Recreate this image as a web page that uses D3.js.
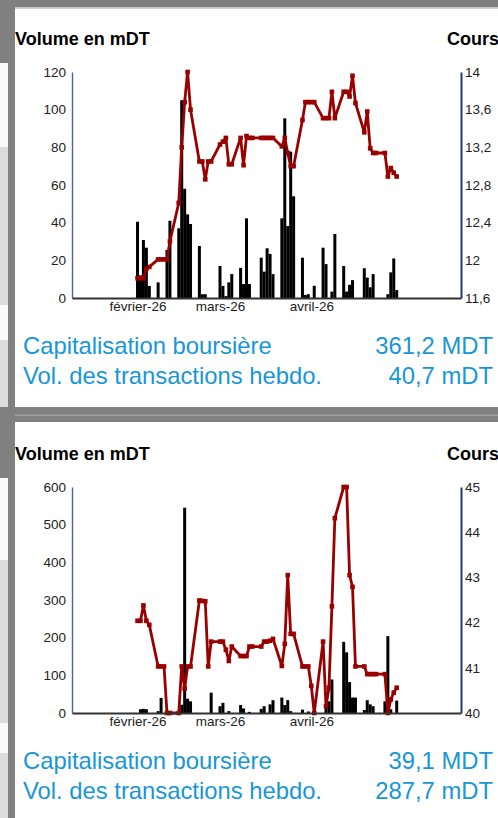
<!DOCTYPE html>
<html>
<head>
<meta charset="utf-8">
<script src="https://cdn.jsdelivr.net/npm/d3@7"></script>
<style>
  body { margin: 0; background: #808080; overflow: hidden; }
  svg { display: block; font-family: "Liberation Sans", Arial, sans-serif; }
</style>
</head>
<body>
<div id="chart"></div>
<script>

// trading days shown on both charts
const days = [
  '2026-02-02','2026-02-03','2026-02-04','2026-02-05','2026-02-06',
  '2026-02-09','2026-02-10','2026-02-11','2026-02-12','2026-02-13',
  '2026-02-16','2026-02-17','2026-02-18','2026-02-19','2026-02-20',
  '2026-02-23','2026-02-24','2026-02-25','2026-02-26','2026-02-27',
  '2026-03-02','2026-03-03','2026-03-04','2026-03-05','2026-03-06',
  '2026-03-09','2026-03-10','2026-03-11','2026-03-12','2026-03-13',
  '2026-03-16','2026-03-17','2026-03-18','2026-03-19','2026-03-20',
  '2026-03-23','2026-03-24','2026-03-25','2026-03-26','2026-03-27',
  '2026-03-30','2026-03-31','2026-04-01','2026-04-02','2026-04-03',
  '2026-04-06','2026-04-07','2026-04-08','2026-04-09','2026-04-10',
  '2026-04-13','2026-04-14','2026-04-15','2026-04-16','2026-04-17',
  '2026-04-20','2026-04-21','2026-04-22','2026-04-23','2026-04-24',
  '2026-04-27','2026-04-28','2026-04-29','2026-04-30','2026-05-01'
];

// first chart: volume (mDT) and price
const volumeA = [
  40.5, 12, 30.8, 26.7, 6.4,
  8.3, 0, 0, 25.5, 41,
  37, 105, 58, 44.4, 39.3,
  27.6, 2, 2, 0, 0,
  17, 6.4, 1, 8.3, 12.7,
  16, 7.4, 42.3, 7.4, 0,
  21.4, 14, 26.4, 23.4, 12.7,
  42.3, 95.4, 38.2, 77.7, 54,
  21.4, 1.6, 2, 0, 6.5,
  26.7, 18, 0, 3.4, 34,
  17, 3.4, 7, 9.5, 0,
  15.8, 10.8, 5.7, 12.7, 0,
  0, 2, 13.6, 21, 4.2
];
const priceA = [
  11.81, 11.81, 11.81, 11.91, 11.93,
  12.01, 12.01, 12.01, 12.01, 12.2,
  12.61, 13.2, 13.68, 14.0, 13.6,
  13.05, 13.05, 12.86, 13.05, 13.05,
  13.23, 13.26, 13.3, 13.02, 13.02,
  13.3, 13.01, 13.32, 13.3, 13.3,
  13.3, 13.3, 13.3, 13.3, 13.3,
  13.21, 13.3, 13.14, 13.0, 13.0,
  13.49, 13.68, 13.68, 13.68, 13.68,
  13.51, 13.51, 13.51, 13.79, 13.51,
  13.79, 13.79, 13.74, 13.96, 13.67,
  13.36, 13.58, 13.19, 13.14, 13.14,
  13.14, 12.89, 12.98, 12.93, 12.89
];

// second chart
const volumeB = [
  0, 10, 11, 10, 0,
  5, 40, 0, 0, 0,
  0, 22, 545, 38, 31,
  0, 0, 0, 0, 54,
  18, 27, 0, 5, 0,
  21, 12, 0, 3, 0,
  11, 18, 0, 23, 34,
  41, 21, 34, 5, 0,
  9, 0, 4, 0, 0,
  0, 15, 31, 89, 0,
  189, 161, 82, 41, 41,
  8, 34, 23, 18, 0,
  31, 204, 10, 0, 33
];
const priceB = [
  42.04, 42.04, 42.38, 42.04, 41.95,
  41.03, 41.03, 41.03, 40.0, 40.0,
  40.0, 41.03, 40.54, 41.03, 41.03,
  42.49, 42.48, 42.47, 41.03, 41.58,
  41.58, 41.58, 41.4, 41.15, 41.47,
  41.26, 41.26, 41.26, 41.47, 41.47,
  41.47, 41.58, 41.58, 41.6, 41.64,
  41.04, 41.53, 43.05, 41.75, 41.75,
  41.03, 41.03, 41.03, 40.6, 40.0,
  41.58, 40.15, 40.56, 42.36, 44.31,
  45.0, 45.0, 43.05, 42.79, 41.03,
  41.03, 40.86, 40.86, 40.86, 40.86,
  40.86, 40.0, 40.3, 40.45, 40.56
];

const volTicksA = [0, 20, 40, 60, 80, 100, 120];
const priceTicksA = [11.6, 12, 12.4, 12.8, 13.2, 13.6, 14];
const volTicksB = [0, 100, 200, 300, 400, 500, 600];
const priceTicksB = [40, 41, 42, 43, 44, 45];

const monthTicks = ['2026-02-01', '2026-03-01', '2026-04-01'];
const monthLabels = ['février-26', 'mars-26', 'avril-26'];

const infoLabels = ['Capitalisation boursière', 'Vol. des transactions hebdo.'];
const infoA = ['361,2 MDT', '40,7 mDT'];
const infoB = ['39,1 MDT', '287,7 mDT'];

const WIDTH = 498;
const HEIGHT = 818;
const SHIFT = 415;   // second panel offset

const parse = d3.timeParse('%Y-%m-%d');
const frNum = v => String(+v.toFixed(1)).replace('.', ',');

const x = d3.scaleTime()
  .domain([new Date(2026, 0, 10, 18), new Date(2026, 4, 22, 20)])
  .range([72, 461]);

const svg = d3.select('#chart')
  .append('svg')
  .attr('width', WIDTH)
  .attr('height', HEIGHT);

// page chrome around the two cards
svg.append('rect').attr('width', WIDTH).attr('height', HEIGHT).attr('fill', '#808080');
[[63, 147, '#fafafa'], [147, 305, '#dcdcdc'], [305, 340, '#fafafa'], [340, 407, '#dcdcdc'],
 [478, 560, '#fafafa'], [560, 723, '#dcdcdc'], [723, 753, '#fafafa'], [753, 818, '#dcdcdc']]
  .forEach(s => svg.append('rect').attr('x', 0).attr('y', s[0]).attr('width', 8)
    .attr('height', s[1] - s[0]).attr('fill', s[2]));
svg.append('rect').attr('x', 15).attr('y', 7).attr('width', WIDTH).attr('height', 1.5).attr('fill', '#c8c8c8');
svg.append('rect').attr('x', 15).attr('y', 8.5).attr('width', WIDTH).attr('height', 398.5).attr('fill', '#fff');
svg.append('rect').attr('x', 15).attr('y', 414.5).attr('width', WIDTH).attr('height', 1.5).attr('fill', '#a0a0a0');
svg.append('rect').attr('x', 15).attr('y', 422).attr('width', WIDTH).attr('height', 396).attr('fill', '#fff');

function drawPanel(oy, vols, prices, volTicks, priceTicks, info) {

  const g = svg.append('g').attr('transform', `translate(0,${oy})`);

  const yVol = d3.scaleLinear()
    .domain(d3.extent(volTicks))
    .range([298, 72]);

  const yPrice = d3.scaleLinear()
    .domain(d3.extent(priceTicks))
    .range([298, 72]);

  const rows = days.map((d, i) => ({ date: parse(d), v: vols[i], p: prices[i] }));

  g.append('text')
    .attr('x', 15).attr('y', 45)
    .attr('font-size', 18).attr('font-weight', 'bold')
    .text('Volume en mDT');

  g.append('text')
    .attr('x', 447).attr('y', 45)
    .attr('font-size', 18).attr('font-weight', 'bold')
    .text('Cours');

  g.selectAll('rect.bar')
    .data(rows.filter(d => d.v > 0))
    .join('rect')
    .attr('class', 'bar')
    .attr('x', d => x(d.date) - 1.5)
    .attr('width', 3)
    .attr('y', d => yVol(d.v))
    .attr('height', d => yVol(0) - yVol(d.v))
    .attr('fill', '#000');

  const line = d3.line()
    .x(d => x(d.date))
    .y(d => yPrice(d.p));

  g.append('path')
    .datum(rows)
    .attr('d', line)
    .attr('fill', 'none')
    .attr('stroke', '#990000')
    .attr('stroke-width', 2.8)
    .attr('stroke-linejoin', 'round');

  g.selectAll('rect.mark')
    .data(rows)
    .join('rect')
    .attr('class', 'mark')
    .attr('x', d => x(d.date) - 2.3)
    .attr('y', d => yPrice(d.p) - 2.3)
    .attr('width', 4.6)
    .attr('height', 4.6)
    .attr('fill', '#990000');

  const left = g.append('g')
    .attr('transform', 'translate(72,0)')
    .call(d3.axisLeft(yVol).tickValues(volTicks).tickSize(0).tickPadding(6).tickFormat(d3.format('d')));
  left.select('.domain').attr('stroke', '#4d5ea3').attr('stroke-width', 1.4);

  const right = g.append('g')
    .attr('transform', 'translate(461,0)')
    .call(d3.axisRight(yPrice).tickValues(priceTicks).tickSize(0).tickPadding(4).tickFormat(frNum));
  right.select('.domain').attr('stroke', '#2e3573').attr('stroke-width', 2);

  const bottom = g.append('g')
    .attr('transform', 'translate(0,298)')
    .call(d3.axisBottom(x).tickValues(monthTicks.map(parse)).tickSize(0).tickPadding(3)
      .tickFormat((d, i) => monthLabels[i]));
  bottom.select('.domain').attr('stroke', '#333').attr('stroke-width', 2);
  bottom.selectAll('text').attr('dx', 3);

  g.selectAll('.tick text')
    .attr('font-size', 13.5)
    .attr('font-family', '"Liberation Sans", Arial, sans-serif')
    .attr('fill', '#222');

  infoLabels.forEach((t, i) => {
    g.append('text')
      .attr('x', 23).attr('y', 354 + i * 29.5)
      .attr('font-size', 23.8).attr('fill', '#1796d8')
      .text(t);
    g.append('text')
      .attr('x', 493).attr('y', 354 + i * 29.5)
      .attr('text-anchor', 'end')
      .attr('font-size', 23.8).attr('fill', '#1796d8')
      .text(info[i]);
  });
}

drawPanel(0, volumeA, priceA, volTicksA, priceTicksA, infoA);
drawPanel(SHIFT, volumeB, priceB, volTicksB, priceTicksB, infoB);

</script>
</body>
</html>
